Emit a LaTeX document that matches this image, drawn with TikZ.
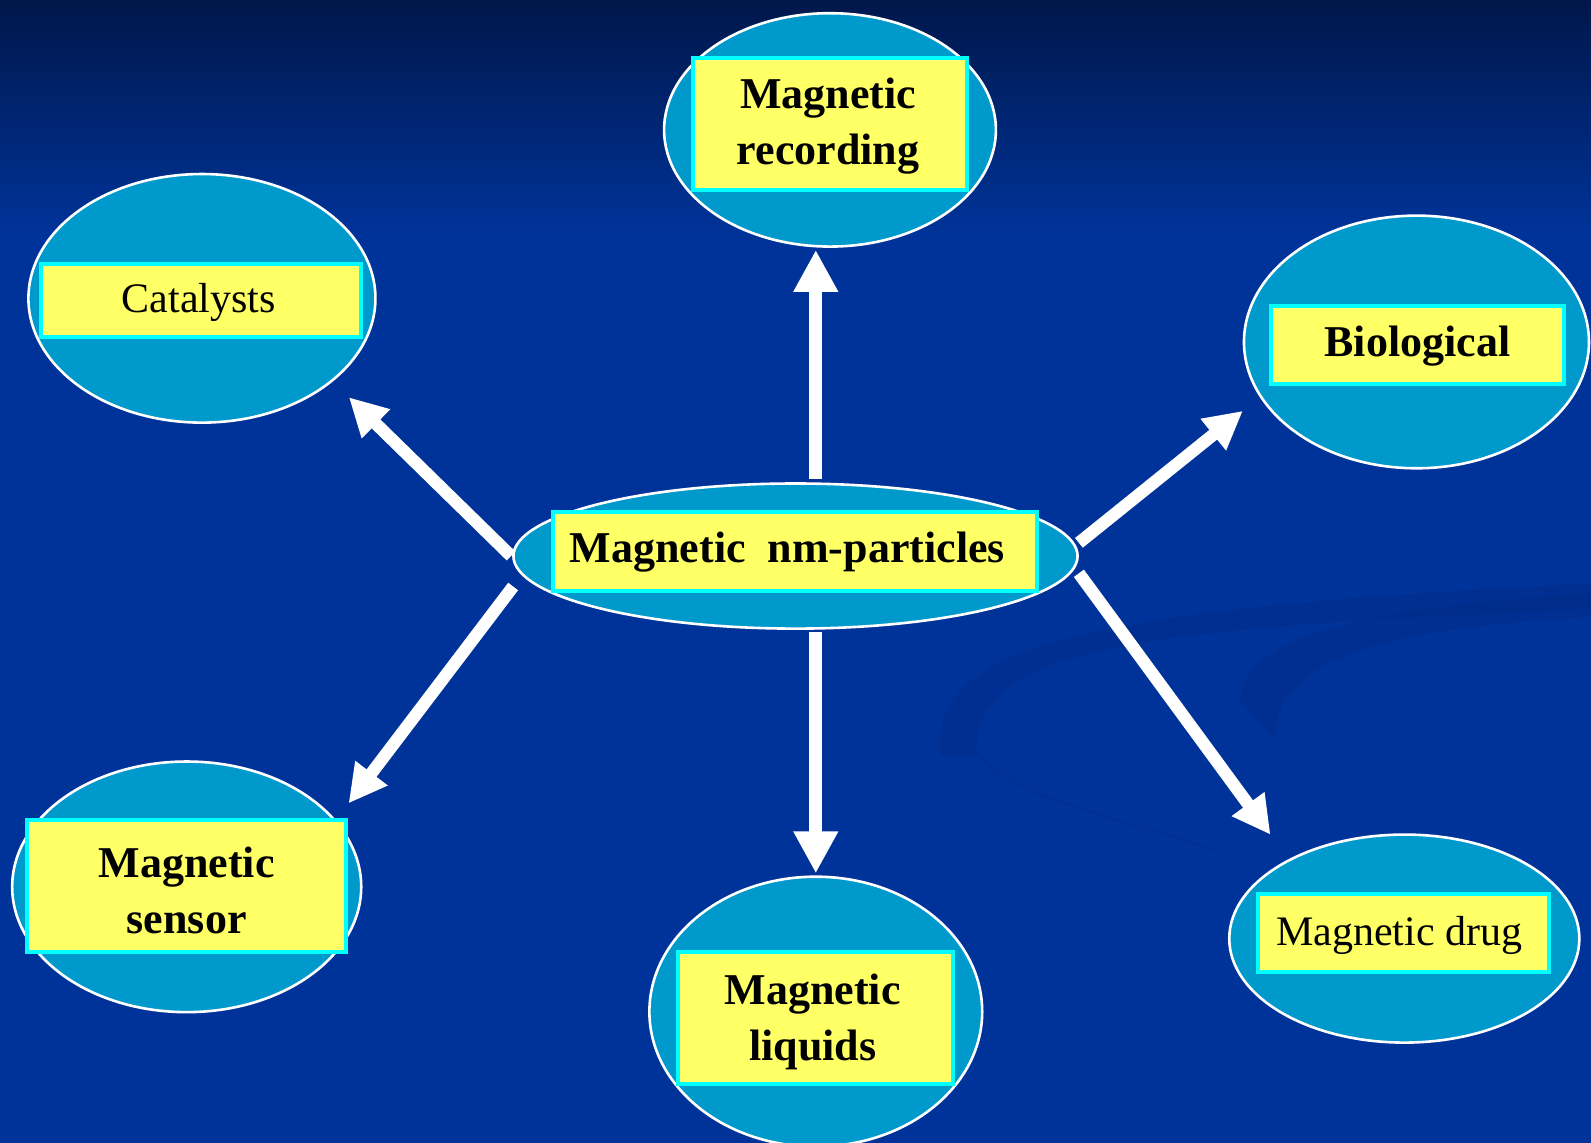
\documentclass[tikz,border=0pt]{standalone}
\usepackage{fontspec}
\setmainfont{Liberation Serif}
\usetikzlibrary{shapes.geometric,arrows.meta,calc}
\definecolor{bgtop}{HTML}{00174A}
\definecolor{bgblue}{HTML}{003399}
\definecolor{swirl}{HTML}{002A85}
\definecolor{ellfill}{HTML}{0099CC}
\definecolor{boxfill}{HTML}{FFFF66}
\definecolor{boxline}{HTML}{00FFFF}
\newcommand\pxu{0.50735pt}
\begin{document}
\begin{tikzpicture}[x=0.50735pt,y=-0.50735pt,
  bubble/.style={ellipse, fill=ellfill, draw=white, line width=1.3pt, inner sep=0pt},
  labelbox/.style={rectangle, fill=boxfill, draw=boxline, line width=2pt, inner sep=0pt},
  boldtxt/.style={font=\fontsize{22}{28}\selectfont\bfseries, align=center, inner sep=0pt, text=black},
  plaintxt/.style={font=\fontsize{21}{27}\selectfont, align=center, inner sep=0pt, text=black},
  bigarr/.style={draw=white, line width=6.6pt, -{Triangle[width=21pt,length=21pt]}},
  diagarr/.style={draw=white, line width=6.2pt, -{Triangle[width=19pt,length=19pt]}}]
\useasboundingbox (0,0) rectangle (1568,1126);
% background
\fill[bgblue] (0,0) rectangle (1568,1126);
\shade[top color=bgtop, bottom color=bgblue] (0,0) rectangle (1568,230);
% faint swirl
\fill[swirl, opacity=0.4] (927,745) .. controls (915,640) and (1050,600) .. (1568,575)
  -- (1568,600) .. controls (1100,620) and (960,640) .. (962,745) -- cycle;
\fill[swirl, opacity=0.4] (1222,690) .. controls (1225,630) and (1330,600) .. (1568,585)
  -- (1568,608) .. controls (1360,620) and (1255,650) .. (1257,730) -- cycle;
\draw[swirl, line width=1pt, opacity=0.4] (960,740) .. controls (1000,790) and (1120,810) .. (1205,840);
% bubbles
\node[bubble, minimum width=327*\pxu, minimum height=230*\pxu] (top) at (818,128) {};
\node[bubble, minimum width=342*\pxu, minimum height=245*\pxu] (cat) at (199,294) {};
\node[bubble, minimum width=340*\pxu, minimum height=249*\pxu] (bio) at (1396,337) {};
\node[bubble, minimum width=556*\pxu, minimum height=143*\pxu] (c) at (784,548) {};
\node[bubble, minimum width=344*\pxu, minimum height=247*\pxu] (sen) at (184,874) {};
\node[bubble, minimum width=328*\pxu, minimum height=266*\pxu] (liq) at (804,997) {};
\node[bubble, minimum width=345*\pxu, minimum height=205*\pxu] (drug) at (1384,925) {};
% label boxes
\node[labelbox, minimum width=270*\pxu, minimum height=130*\pxu] (topb) at (818,122) {};
\node[labelbox, minimum width=316*\pxu, minimum height=72*\pxu] (catb) at (198,296) {};
\node[labelbox, minimum width=288*\pxu, minimum height=76*\pxu] (biob) at (1397,340) {};
\node[labelbox, minimum width=477*\pxu, minimum height=77*\pxu] (cb) at (783.5,543.5) {};
\node[labelbox, minimum width=314*\pxu, minimum height=130*\pxu] (senb) at (184,873) {};
\node[labelbox, minimum width=271*\pxu, minimum height=130*\pxu] (liqb) at (803.5,1003) {};
\node[labelbox, minimum width=287*\pxu, minimum height=77*\pxu] (drugb) at (1383.5,919.5) {};
% texts
\node[boldtxt] (topt) at (816,124) {Magnetic\\recording};
\node[plaintxt] (catt) at (196,298) {Catalysts};
\node[boldtxt] (biot) at (1397,341) {Biological};
\node[boldtxt] (ct) at (776,544) {Magnetic\ \ nm-particles};
\node[boldtxt] (sent) at (184,878) {Magnetic\\sensor};
\node[boldtxt] (liqt) at (801,1007) {Magnetic\\liquids};
\node[plaintxt] (drugt) at (1379,922) {Magnetic drug};
% arrows
\draw[bigarr] ($(c.north)+(20,-3)$) -- ($(top.south)+(-14,2)$);
\draw[bigarr] ($(c.south)+(20,2)$) -- ($(liq.north)+(0,-2)$);
\draw[diagarr] ($(c.west)+(-1,0)$) -- ($(cat.south east)+(23,10)$);
\draw[diagarr] ($(c.west)+(1,30)$) -- ($(sen.north east)+(37,6)$);
\draw[diagarr] ($(c.east)+(0,-13)$) -- ($(bio.south west)+(-50,-21)$);
\draw[diagarr] ($(c.east)+(0,17)$) -- ($(drug.north west)+(-9,-29)$);
\end{tikzpicture}
\end{document}
